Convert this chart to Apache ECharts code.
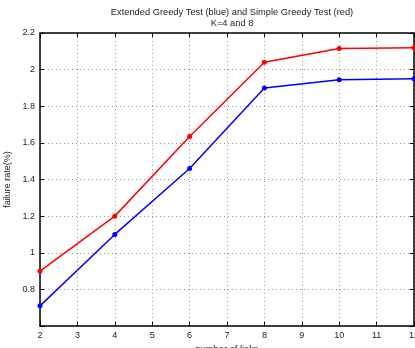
<!DOCTYPE html>
<html>
<head>
<meta charset="utf-8">
<style>
  html, body { margin: 0; padding: 0; background: #fff; }
  #chart { width: 415px; height: 348px; }
</style>
<script src="https://cdn.jsdelivr.net/npm/echarts@6/dist/echarts.min.js"></script>
</head>
<body>
<div id="chart"></div>
<script>
// number of links
const links = [2, 4, 6, 8, 10, 12]
// failure rate (%)
const simpleGreedy = [0.90, 1.20, 1.635, 2.04, 2.115, 2.12]     // red
const extendedGreedy = [0.71, 1.10, 1.46, 1.90, 1.945, 1.95]    // blue

const font = 'Liberation Sans, Arial, sans-serif'

function pairs(xs, ys) {
  return xs.map((x, i) => [x, ys[i]])
}

const chart = echarts.init(document.getElementById('chart'))

const gridLine = { show: true, lineStyle: { color: '#999', type: [1, 3], width: 1 } }
const boxLine = { show: true, onZero: false, lineStyle: { color: '#000', width: 1.5 } }
const tickIn = { show: true, inside: true, length: 4, lineStyle: { color: '#000' } }

chart.setOption({
  animation: false,
  title: {
    text: 'Extended Greedy Test (blue) and Simple Greedy Test (red)\nK=4 and 8',
    left: 227,
    top: 2,
    textAlign: 'center',
    textStyle: { fontFamily: font, fontSize: 9.3, fontWeight: 'normal', color: '#222', lineHeight: 11 }
  },
  grid: { left: 40, top: 33, right: 1, bottom: 22, outerBoundsMode: 'none', containLabel: false },
  xAxis: [{
    type: 'value',
    min: 2,
    max: 12,
    interval: 1,
    name: 'number of links',
    nameLocation: 'middle',
    nameGap: 16,
    nameTextStyle: { fontFamily: font, fontSize: 9.3, color: '#222' },
    axisLine: boxLine,
    axisTick: tickIn,
    axisLabel: { fontFamily: font, fontSize: 9, color: '#222', margin: 5 },
    splitLine: gridLine
  }, {
    type: 'value',
    position: 'top',
    min: 2,
    max: 12,
    interval: 1,
    axisLine: boxLine,
    axisTick: tickIn,
    axisLabel: { show: false },
    splitLine: { show: false }
  }],
  yAxis: [{
    type: 'value',
    min: 0.6,
    max: 2.2,
    interval: 0.2,
    name: 'failure rate(%)',
    nameLocation: 'middle',
    nameGap: 25,
    nameTextStyle: { fontFamily: font, fontSize: 9, color: '#222' },
    axisLine: boxLine,
    axisTick: tickIn,
    axisLabel: {
      fontFamily: font, fontSize: 9, color: '#222', margin: 5,
      formatter: v => {
        const r = Math.round(v * 10) / 10
        return r < 0.7 ? '' : String(r)
      }
    },
    splitLine: gridLine
  }, {
    type: 'value',
    position: 'right',
    min: 0.6,
    max: 2.2,
    interval: 0.2,
    axisLine: boxLine,
    axisTick: tickIn,
    axisLabel: { show: false },
    splitLine: { show: false }
  }],
  series: [{
    name: 'Simple Greedy',
    type: 'line',
    data: pairs(links, simpleGreedy),
    symbol: 'circle',
    symbolSize: 5,
    lineStyle: { color: '#ff0000', width: 1.5 },
    itemStyle: { color: '#ff0000' }
  }, {
    name: 'Extended Greedy',
    type: 'line',
    data: pairs(links, extendedGreedy),
    symbol: 'circle',
    symbolSize: 5,
    lineStyle: { color: '#0000ff', width: 1.5 },
    itemStyle: { color: '#0000ff' }
  }]
})
</script>
</body>
</html>
